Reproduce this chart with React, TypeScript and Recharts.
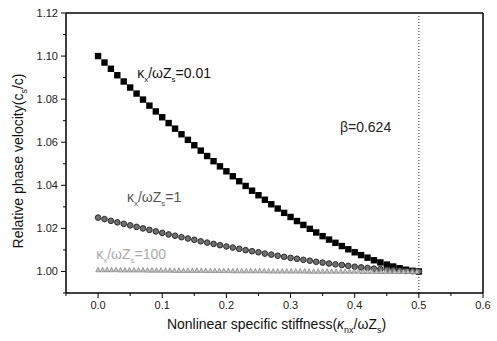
import React from 'react';
import { ComposedChart, Line, XAxis, YAxis, ReferenceLine, ReferenceDot } from 'recharts';

const stiffness = [
  0, 0.01, 0.02, 0.03, 0.04, 0.05, 0.06, 0.07, 0.08, 0.09,
  0.1, 0.11, 0.12, 0.13, 0.14, 0.15, 0.16, 0.17, 0.18, 0.19,
  0.2, 0.21, 0.22, 0.23, 0.24, 0.25, 0.26, 0.27, 0.28, 0.29,
  0.3, 0.31, 0.32, 0.33, 0.34, 0.35, 0.36, 0.37, 0.38, 0.39,
  0.4, 0.41, 0.42, 0.43, 0.44, 0.45, 0.46, 0.47, 0.48, 0.49, 0.5,
];

// kx/wZs = 0.01
const velocityLow = [
  1.1, 1.097, 1.0941, 1.0911, 1.0882, 1.0854, 1.0826, 1.0798, 1.077, 1.0743,
  1.0716, 1.0689, 1.0663, 1.0637, 1.0611, 1.0586, 1.0561, 1.0536, 1.0512, 1.0488,
  1.0465, 1.0442, 1.0419, 1.0397, 1.0375, 1.0354, 1.0333, 1.0312, 1.0292, 1.0272,
  1.0253, 1.0234, 1.0216, 1.0198, 1.0181, 1.0164, 1.0148, 1.0133, 1.0118, 1.0103,
  1.0089, 1.0076, 1.0064, 1.0052, 1.0042, 1.0032, 1.0023, 1.0015, 1.0008, 1.0003, 1.0,
];

// kx/wZs = 1
const velocityMid = [
  1.025, 1.0243, 1.0235, 1.0228, 1.0221, 1.0214, 1.0207, 1.02, 1.0193, 1.0186,
  1.0179, 1.0172, 1.0166, 1.0159, 1.0153, 1.0147, 1.014, 1.0134, 1.0128, 1.0122,
  1.0116, 1.0111, 1.0105, 1.0099, 1.0094, 1.0089, 1.0083, 1.0078, 1.0073, 1.0068,
  1.0063, 1.0059, 1.0054, 1.005, 1.0045, 1.0041, 1.0037, 1.0033, 1.003, 1.0026,
  1.0022, 1.0019, 1.0016, 1.0013, 1.0011, 1.0008, 1.0006, 1.0004, 1.0002, 1.0001, 1.0,
];

// kx/wZs = 100 (sampled more densely)
const stiffnessHigh = [
  0, 0.007, 0.014, 0.021, 0.028, 0.035, 0.042, 0.049, 0.056, 0.063,
  0.07, 0.077, 0.084, 0.091, 0.098, 0.105, 0.112, 0.119, 0.126, 0.133,
  0.14, 0.147, 0.154, 0.161, 0.168, 0.175, 0.182, 0.189, 0.196, 0.203,
  0.21, 0.217, 0.224, 0.231, 0.238, 0.245, 0.252, 0.259, 0.266, 0.273,
  0.28, 0.287, 0.294, 0.301, 0.308, 0.315, 0.322, 0.329, 0.336, 0.343,
  0.35, 0.357, 0.364, 0.371, 0.378, 0.385, 0.392, 0.399, 0.406, 0.413,
  0.42, 0.427, 0.434, 0.441, 0.448, 0.455, 0.462, 0.469, 0.476, 0.483,
  0.49, 0.497,
];
const velocityHigh = [
  1.0008, 1.0008, 1.0008, 1.0008, 1.0008, 1.0007, 1.0007, 1.0007, 1.0007, 1.0007,
  1.0007, 1.0006, 1.0006, 1.0006, 1.0006, 1.0006, 1.0006, 1.0005, 1.0005, 1.0005,
  1.0005, 1.0005, 1.0005, 1.0005, 1.0004, 1.0004, 1.0004, 1.0004, 1.0004, 1.0004,
  1.0003, 1.0003, 1.0003, 1.0003, 1.0003, 1.0003, 1.0003, 1.0003, 1.0002, 1.0002,
  1.0002, 1.0002, 1.0002, 1.0002, 1.0002, 1.0002, 1.0002, 1.0001, 1.0001, 1.0001,
  1.0001, 1.0001, 1.0001, 1.0001, 1.0001, 1.0001, 1.0001, 1.0001, 1.0001, 1.0,
  1.0, 1.0, 1.0, 1.0, 1.0, 1.0, 1.0, 1.0, 1.0, 1.0,
  1.0, 1.0,
];

const xTicks = [-0.05, 0, 0.05, 0.1, 0.15, 0.2, 0.25, 0.3, 0.35, 0.4, 0.45, 0.5, 0.55, 0.6];
const yTicks = [0.99, 1.0, 1.01, 1.02, 1.03, 1.04, 1.05, 1.06, 1.07, 1.08, 1.09, 1.1, 1.11, 1.12];

const FONT = '"Liberation Sans", Arial, sans-serif';

const data = stiffness.map((x, i) => ({
  x,
  low: velocityLow[i],
  mid: velocityMid[i],
}));
const dataHigh = stiffnessHigh.map((x, i) => ({ x, high: velocityHigh[i] }));

function XTick(props: any) {
  const { x, y, payload } = props;
  const v = payload.value;
  const major = Math.round(v * 100) % 10 === 0;
  const ay = y - 8;
  return (
    <g>
      <line x1={x} x2={x} y1={ay} y2={ay + (major ? 5 : 3)} stroke="#000" />
      {major && (
        <text x={x} y={ay + 16} textAnchor="middle" fontSize={11} fontFamily={FONT} fill="#222">
          {v.toFixed(1)}
        </text>
      )}
    </g>
  );
}

function YTick(props: any) {
  const { x, y, payload } = props;
  const v = payload.value;
  const major = Math.round(v * 100) % 2 === 0;
  const ax = x + 8;
  return (
    <g>
      <line x1={ax - (major ? 5 : 3)} x2={ax} y1={y} y2={y} stroke="#000" />
      {major && (
        <text x={x} y={y + 4} textAnchor="end" fontSize={11} fontFamily={FONT} fill="#222">
          {v.toFixed(2)}
        </text>
      )}
    </g>
  );
}

function XTitle(props: any) {
  const { x, y, width } = props.viewBox;
  return (
    <text x={x + width / 2 + 2} y={y + 36} textAnchor="middle" fontSize={14} fontFamily={FONT} fill="#111">
      Nonlinear specific stiffness(<tspan fontStyle="italic">κ</tspan>
      <tspan dy={4} fontSize={9}>nx</tspan>
      <tspan dy={-4}>/ωZ</tspan>
      <tspan dy={4} fontSize={9}>s</tspan>
      <tspan dy={-4}>)</tspan>
    </text>
  );
}

function YTitle(props: any) {
  const { y, height } = props.viewBox;
  const cx = 23;
  const cy = y + height / 2 + 8;
  return (
    <text x={cx} y={cy} transform={`rotate(-90 ${cx} ${cy})`} textAnchor="middle" fontSize={14} fontFamily={FONT} fill="#111">
      Relative phase velocity(c<tspan dy={4} fontSize={9}>s</tspan>
      <tspan dy={-4}>/c)</tspan>
    </text>
  );
}

function kappaLabel(value: string, color: string) {
  return (props: any) => {
    const { x, y } = props.viewBox;
    return (
      <text x={x} y={y} fontSize={14} fontFamily={FONT} fill={color}>
        κ<tspan dy={4} fontSize={8}>x</tspan>
        <tspan dy={-4}>/ωZ</tspan>
        <tspan dy={4} fontSize={8}>s</tspan>
        <tspan dy={-4}>={value}</tspan>
      </text>
    );
  };
}

function betaLabel(props: any) {
  const { x, y } = props.viewBox;
  return (
    <text x={x} y={y} fontSize={14} fontFamily={FONT} fill="#222">
      β=0.624
    </text>
  );
}

const square = (p: any) => (
  <rect key={p.key ?? p.index} x={p.cx - 3.2} y={p.cy - 3.2} width={6.4} height={6.4} fill="#000" />
);
const circle = (p: any) => (
  <circle key={p.key ?? p.index} cx={p.cx} cy={p.cy} r={2.8} fill="#707070" stroke="#2a2a2a" strokeWidth={1} />
);
const triangle = (p: any) => (
  <path
    key={p.key ?? p.index}
    d={`M${p.cx},${p.cy - 2.5} L${p.cx + 2.3},${p.cy + 2} L${p.cx - 2.3},${p.cy + 2} Z`}
    fill="#c4c4c4"
    stroke="#8c8c8c"
    strokeWidth={0.8}
  />
);

export default function App() {
  return (
    <div style={{ position: 'absolute', left: 0, top: 0, background: '#fff' }}>
      <ComposedChart width={497} height={341} data={data} margin={{ top: 13, right: 14, left: 0, bottom: 0 }}>
        <XAxis
          dataKey="x"
          type="number"
          domain={[-0.05, 0.6]}
          ticks={xTicks}
          interval={0}
          allowDataOverflow
          height={48}
          tickSize={5}
          tickMargin={3}
          tickLine={false}
          tick={<XTick />}
          axisLine={{ stroke: '#000', strokeWidth: 1.5 }}
          label={{ content: XTitle }}
        />
        <YAxis
          type="number"
          domain={[0.99, 1.12]}
          ticks={yTicks}
          interval={0}
          allowDataOverflow
          width={66}
          tickSize={5}
          tickMargin={3}
          tickLine={false}
          tick={<YTick />}
          axisLine={{ stroke: '#000', strokeWidth: 1.5 }}
          label={{ content: YTitle }}
        />
        <ReferenceLine y={1.12} stroke="#000" strokeWidth={1.5} />
        <ReferenceLine x={0.6} stroke="#000" strokeWidth={1.5} />
        <ReferenceLine x={0.5} stroke="#333" strokeDasharray="1 2" />
        <Line dataKey="low" stroke="none" dot={square} activeDot={false} isAnimationActive={false} />
        <Line dataKey="mid" stroke="none" dot={circle} activeDot={false} isAnimationActive={false} />
        <Line data={dataHigh} dataKey="high" stroke="none" dot={triangle} activeDot={false} isAnimationActive={false} />
        <ReferenceDot x={0.061} y={1.0898} r={0} label={{ content: kappaLabel('0.01', '#111') }} />
        <ReferenceDot x={0.377} y={1.0647} r={0} label={{ content: betaLabel }} />
        <ReferenceDot x={0.045} y={1.0321} r={0} label={{ content: kappaLabel('1', '#555') }} />
        <ReferenceDot x={-0.003} y={1.0056} r={0} label={{ content: kappaLabel('100', '#aaa') }} />
      </ComposedChart>
    </div>
  );
}
